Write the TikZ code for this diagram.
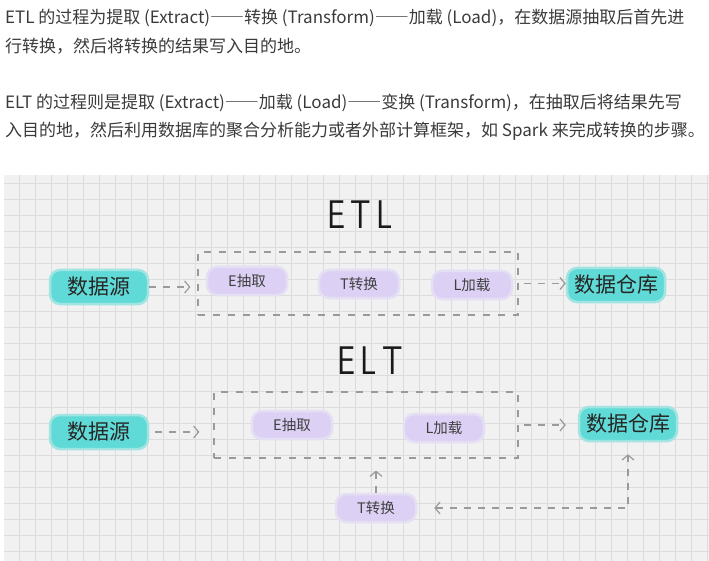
\documentclass[tikz,border=0pt]{standalone}
\usepackage{fontspec}
\setmainfont{Noto Sans CJK SC}
\usetikzlibrary{positioning, arrows.meta, calc}

\definecolor{paper}{HTML}{F1F1F1}
\definecolor{gridline}{HTML}{DCDCDC}
\definecolor{aqua}{HTML}{5FDAD6}
\definecolor{lilac}{HTML}{DCD1F4}
\definecolor{pen}{HTML}{9A9A9A}
\definecolor{body}{HTML}{3A3A3A}

\newcommand{\dashpair}{{\addfontfeatures{RawFeature=+fwid}——}}

\tikzset{
  para/.style={anchor=west, inner sep=0pt, text=body, font=\fontsize{17}{20}\selectfont},
  store/.style={fill=aqua, draw=aqua!55!paper, line width=2.5pt, rounded corners=10pt, minimum width=98pt, minimum height=34pt, inner sep=2pt, text=black!85, font=\fontsize{21}{24}\selectfont},
  stage/.style={fill=lilac, draw=lilac!55!paper, line width=2.5pt, rounded corners=10pt, minimum width=80pt, minimum height=28pt, inner sep=2pt, text=black!75, font=\fontsize{14.5}{16}\selectfont},
  heading/.style={font=\sffamily\fontsize{40}{40}\selectfont, text=black!90},
  frame/.style={draw=pen, line width=1.2pt, dash pattern=on 7pt off 8pt},
  flow/.style={draw=pen, line width=1.2pt, dash pattern=on 7pt off 7pt, -{Straight Barb[length=5pt,width=12pt]}},
}

\begin{document}
\begin{tikzpicture}[x=1pt,y=-1pt]
  \useasboundingbox (0,0) rectangle (709,561);

  % text above the sketch
  \node[para] (etlline) at (5,18) {ETL 的过程为提取 (Extract)\dashpair 转换 (Transform)\dashpair 加载 (Load)，在数据源抽取后首先进};
  \node[para] (etlend) at (5,46) {行转换，然后将转换的结果写入目的地。};
  \node[para] (eltline) at (5,103) {ELT 的过程则是提取 (Extract)\dashpair 加载 (Load)\dashpair 变换 (Transform)，在抽取后将结果先写};
  \node[para] (eltend) at (5,131) {入目的地，然后利用数据库的聚合分析能力或者外部计算框架，如 Spark 来完成转换的步骤。};

  % squared paper
  \fill[paper] (4,175) rectangle (709,561);
  \foreach \x in {19,35,...,707}
    \draw[gridline, line width=0.7pt] (\x,175) -- (\x,561);
  \foreach \y in {183,199,...,560}
    \draw[gridline, line width=0.7pt] (4,\y) -- (709,\y);

  % ETL
  \node[heading] (etl) at (360,215) {\scalebox{0.8}[1]{E\,T\,L}};
  \node[store] (src1) at (99,287) {数据源};
  \node[frame, minimum width=320pt, minimum height=63pt] (box1) at (358,283.5) {};
  \node[stage] (e1) at (247,281) {E抽取};
  \node[stage] (t1) at (359,284) {T转换};
  \node[stage] (l1) at (472,285) {L加载};
  \node[store] (dw1) at (616,285) {数据仓库};
  \draw[flow, shorten >=7pt] (src1.east) -- (src1.east -| box1.west);
  \draw[flow, shorten <=5pt] (box1.east) -- (box1.east -| dw1.west);

  % ELT
  \node[heading] (elt) at (370,361) {\scalebox{0.8}[1]{E\,L\,T}};
  \node[store] (src2) at (99,432) {数据源};
  \node[frame, minimum width=304pt, minimum height=66pt] (box2) at (366,425) {};
  \node[stage] (e2) at (292,425) {E抽取};
  \node[stage] (l2) at (444,428) {L加载};
  \node[store] (dw2) at (628,424) {数据仓库};
  \node[stage] (t2) at (376,508) {T转换};
  \draw[flow, shorten <=6pt, shorten >=14pt] (src2.east) -- (src2.east -| box2.west);
  \draw[flow, shorten <=5pt, shorten >=12pt] (box2.east) -- (box2.east -| dw2.west);
  \draw[flow, shorten >=12pt] (t2.north) -- (t2.north |- box2.south);
  \draw[flow, {Straight Barb[length=5pt,width=12pt]}-{Straight Barb[length=5pt,width=12pt]}, shorten <=17pt, shorten >=12pt] (t2.east) -| (dw2.south);
\end{tikzpicture}
\end{document}
